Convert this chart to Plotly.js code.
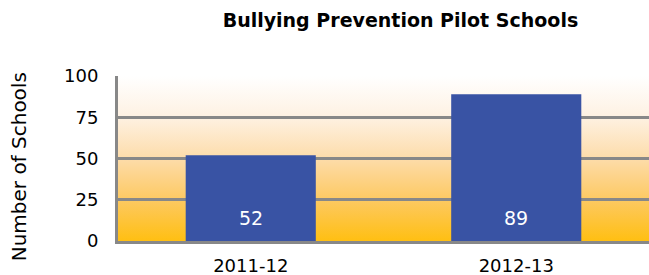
<!DOCTYPE html>
<html>
<head>
<meta charset="utf-8">
<script src="https://cdn.plot.ly/plotly-3.0.1.min.js"></script>
<style>html,body{margin:0;padding:0;background:#fff;}#chart{width:649px;height:275px;}</style>
</head>
<body>
<div id="chart"></div>
<script>
const years = ["2011-12", "2012-13"];
const schools = [52, 89];
const yTicks = [0, 25, 50, 75, 100];

const gradSvg = '<svg xmlns="http://www.w3.org/2000/svg" width="100" height="100" preserveAspectRatio="none">' +
  '<defs><linearGradient id="g" x1="0" y1="0" x2="0" y2="1">' +
  '<stop offset="0" stop-color="#FFFFFF"/>' +
  '<stop offset="0.25" stop-color="#FEF1E2"/>' +
  '<stop offset="0.5" stop-color="#FDDCAA"/>' +
  '<stop offset="0.75" stop-color="#FDC962"/>' +
  '<stop offset="1" stop-color="#FFBF12"/>' +
  '</linearGradient></defs><rect width="100" height="100" fill="url(#g)"/></svg>';
const gradUri = 'data:image/svg+xml;base64,' + btoa(gradSvg);

const font = "'DejaVu Sans', sans-serif";

const trace = {
  type: 'bar',
  x: years,
  y: schools,
  width: 0.49,
  marker: {color: '#3953A4'},
  hoverinfo: 'none'
};

const valueLabels = years.map((yr, i) => ({
  x: yr, y: 0, xref: 'x', yref: 'y',
  text: String(schools[i]),
  showarrow: false,
  yanchor: 'bottom',
  yshift: 10,
  font: {color: '#FFFFFF', size: 19, family: font}
}));

const layout = {
  width: 649,
  height: 275,
  margin: {l: 118, r: 0, t: 76, b: 34, pad: 0},
  paper_bgcolor: '#FFFFFF',
  plot_bgcolor: 'rgba(0,0,0,0)',
  showlegend: false,
  title: {
    text: '<b>Bullying Prevention Pilot Schools</b>',
    font: {family: font, size: 19, color: '#000000'},
    x: 0.617, xanchor: 'center',
    y: 0.925, yanchor: 'middle'
  },
  xaxis: {
    type: 'category',
    range: [-0.5, 1.5],
    showline: true,
    linecolor: '#888888',
    linewidth: 3,
    showgrid: false,
    ticks: '',
    tickfont: {family: font, size: 18, color: '#000000'},
    ticklabelstandoff: 6,
    fixedrange: true
  },
  yaxis: {
    range: [0, 100],
    tickvals: yTicks,
    ticktext: yTicks.map(String),
    showline: true,
    linecolor: '#888888',
    linewidth: 3,
    showgrid: true,
    gridcolor: '#888888',
    gridwidth: 3,
    zeroline: false,
    ticks: '',
    tickfont: {family: font, size: 18, color: '#000000'},
    ticklabelstandoff: 13,
    fixedrange: true
  },
  annotations: valueLabels.concat([{
    text: 'Number of Schools',
    xref: 'paper', yref: 'paper',
    x: -0.186, y: 0.448,
    xanchor: 'center', yanchor: 'middle',
    textangle: -90,
    showarrow: false,
    font: {family: font, size: 20, color: '#000000'}
  }]),
  images: [{
    source: gradUri,
    xref: 'paper', yref: 'paper',
    x: 0, y: 1, sizex: 1, sizey: 1,
    xanchor: 'left', yanchor: 'top',
    sizing: 'stretch',
    layer: 'below'
  }]
};

Plotly.newPlot('chart', [trace], layout, {staticPlot: true, displayModeBar: false});
</script>
</body>
</html>
